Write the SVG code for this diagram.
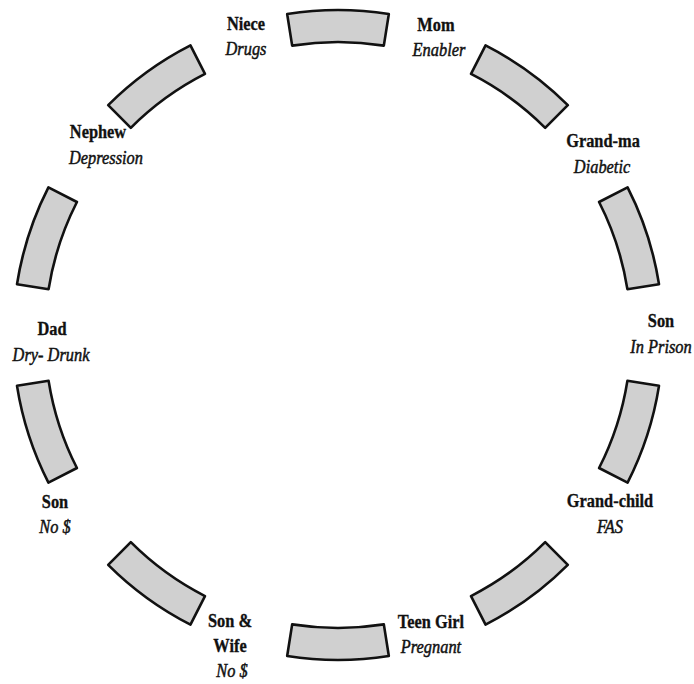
<svg xmlns="http://www.w3.org/2000/svg" width="694" height="684" viewBox="0 0 694 684">
<style>
.seg{fill:#d0d0d0;stroke:#111;stroke-width:2.6;stroke-linejoin:round}
text{font-family:"Liberation Serif","Times New Roman",serif;font-size:19.5px;fill:#111;text-anchor:middle;stroke:#111;stroke-width:0.35}
.n{font-weight:bold}
.d{font-style:italic;stroke-width:0.5}
</style>
<rect width="694" height="684" fill="#fff"/>
<g id="ring">
<path class="seg" d="M287.16,14 A325,325 0 0 1 388.84,14 L383.83,45.61 A293,293 0 0 0 292.17,45.61 Z"/>
<path class="seg" d="M485.55,45.42 A325,325 0 0 1 567.81,105.19 L545.18,127.82 A293,293 0 0 0 471.02,73.93 Z"/>
<path class="seg" d="M627.58,187.45 A325,325 0 0 1 659,284.16 L627.39,289.17 A293,293 0 0 0 599.07,201.98 Z"/>
<path class="seg" d="M659,385.84 A325,325 0 0 1 627.58,482.55 L599.07,468.02 A293,293 0 0 0 627.39,380.83 Z"/>
<path class="seg" d="M567.81,564.81 A325,325 0 0 1 485.55,624.58 L471.02,596.07 A293,293 0 0 0 545.18,542.18 Z"/>
<path class="seg" d="M388.84,656 A325,325 0 0 1 287.16,656 L292.17,624.39 A293,293 0 0 0 383.83,624.39 Z"/>
<path class="seg" d="M190.45,624.58 A325,325 0 0 1 108.19,564.81 L130.82,542.18 A293,293 0 0 0 204.98,596.07 Z"/>
<path class="seg" d="M48.42,482.55 A325,325 0 0 1 17,385.84 L48.61,380.83 A293,293 0 0 0 76.93,468.02 Z"/>
<path class="seg" d="M17,284.16 A325,325 0 0 1 48.42,187.45 L76.93,201.98 A293,293 0 0 0 48.61,289.17 Z"/>
<path class="seg" d="M108.19,105.19 A325,325 0 0 1 190.45,45.42 L204.98,73.93 A293,293 0 0 0 130.82,127.82 Z"/>
</g>
<g id="connectors"></g>
<g id="niece">
<text class="n" transform="translate(246,30) scale(0.84,1)">Niece</text>
<text class="d" transform="translate(246,55) scale(0.84,1)">Drugs</text>
</g>
<g id="mom">
<text class="n" transform="translate(436,31) scale(0.84,1)">Mom</text>
<text class="d" transform="translate(439,56) scale(0.84,1)">Enabler</text>
</g>
<g id="grandma">
<text class="n" transform="translate(603,147) scale(0.84,1)">Grand-ma</text>
<text class="d" transform="translate(602,173) scale(0.84,1)">Diabetic</text>
</g>
<g id="son-prison">
<text class="n" transform="translate(661,327) scale(0.84,1)">Son</text>
<text class="d" transform="translate(661,353) scale(0.84,1)">In Prison</text>
</g>
<g id="grandchild">
<text class="n" transform="translate(610,507) scale(0.84,1)">Grand-child</text>
<text class="d" transform="translate(610,533) scale(0.84,1)">FAS</text>
</g>
<g id="teen-girl">
<text class="n" transform="translate(431,628) scale(0.84,1)">Teen Girl</text>
<text class="d" transform="translate(431,653) scale(0.84,1)">Pregnant</text>
</g>
<g id="son-wife">
<text class="n" transform="translate(230,627) scale(0.84,1)">Son &amp;</text>
<text class="n" transform="translate(230,652) scale(0.84,1)">Wife</text>
<text class="d" transform="translate(232,677) scale(0.84,1)">No $</text>
</g>
<g id="son-nomoney">
<text class="n" transform="translate(55,508) scale(0.84,1)">Son</text>
<text class="d" transform="translate(55,533) scale(0.84,1)">No $</text>
</g>
<g id="dad">
<text class="n" transform="translate(52,335) scale(0.84,1)">Dad</text>
<text class="d" transform="translate(51,361) scale(0.84,1)">Dry- Drunk</text>
</g>
<g id="nephew">
<text class="n" transform="translate(98,138) scale(0.84,1)">Nephew</text>
<text class="d" transform="translate(106,164) scale(0.84,1)">Depression</text>
</g>
</svg>
